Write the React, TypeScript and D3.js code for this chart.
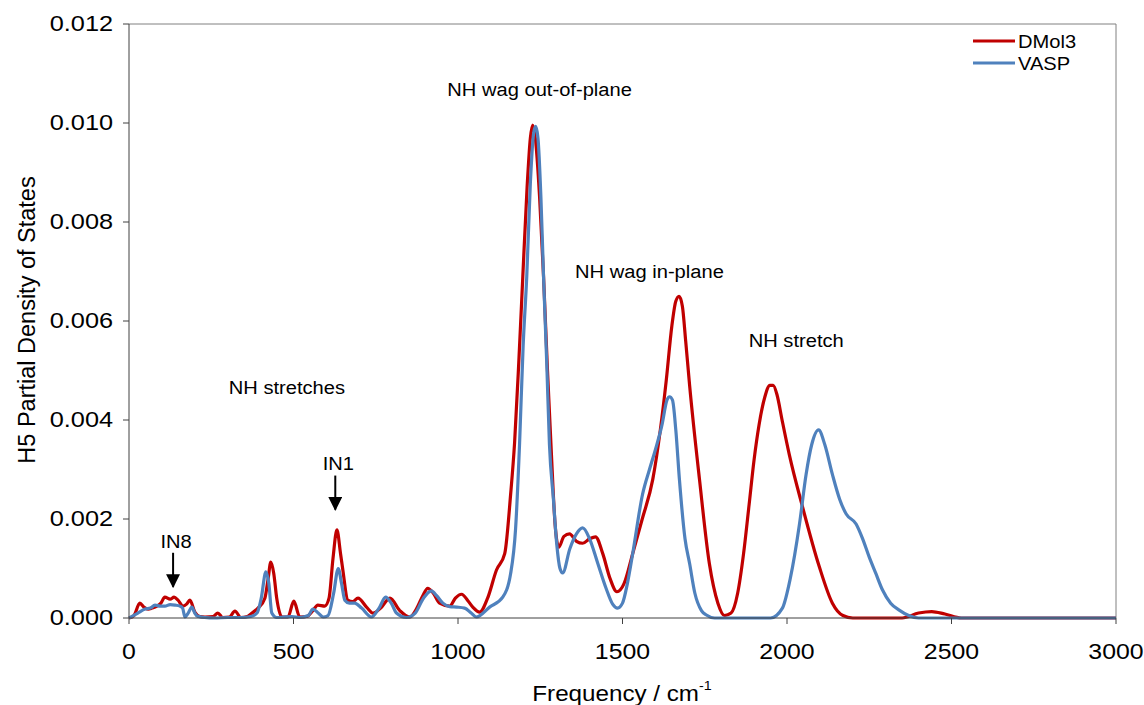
import React from "react";
import * as d3 from "d3";

const dmol3Freq = [0, 15, 33, 45, 58, 70, 85, 97, 109, 125, 137, 149, 164, 175, 185, 200, 215, 231, 255, 270, 285, 305, 322, 340, 360, 374, 392, 413, 423, 431, 440, 449, 465, 483, 501, 519, 540, 559, 574, 595, 608, 620, 632, 643, 650, 665, 680, 696, 722, 742, 765, 793, 823, 853, 875, 893, 908, 925, 944, 975, 992, 1011, 1030, 1045, 1066, 1090, 1117, 1142, 1160, 1172, 1185, 1197, 1210, 1220, 1227, 1235, 1248, 1260, 1272, 1284, 1295, 1306, 1322, 1339, 1360, 1379, 1400, 1418, 1440, 1462, 1483, 1505, 1531, 1560, 1592, 1615, 1633, 1650, 1662, 1672, 1682, 1692, 1704, 1734, 1764, 1790, 1810, 1830, 1850, 1868, 1885, 1900, 1915, 1932, 1948, 1958, 1970, 1985, 2007, 2047, 2098, 2138, 2170, 2200, 2250, 2350, 2400, 2440, 2480, 2530, 3000];
const dmol3Val = [0, 0.00005, 0.0003, 0.00022, 0.00018, 0.0002, 0.00024, 0.0003, 0.00042, 0.00038, 0.00042, 0.00036, 0.00024, 0.00028, 0.00036, 0.00012, 0.00003, 0.00002, 0.00003, 0.0001, 0.00001, 0.00002, 0.00014, 0.00001, 0.00003, 0.0001, 0.0002, 0.0004, 0.0008, 0.00113, 0.0009, 0.0004, 0.00002, 0.00002, 0.00034, 0.00002, 0.00003, 0.00015, 0.00026, 0.00024, 0.0004, 0.0012, 0.00178, 0.0013, 0.00097, 0.00036, 0.00033, 0.0004, 0.00022, 0.0001, 0.0002, 0.0004, 0.00015, 0.00002, 0.0002, 0.00045, 0.0006, 0.0005, 0.0003, 0.00024, 0.0004, 0.00048, 0.00035, 0.00022, 0.00012, 0.0004, 0.00097, 0.0013, 0.0025, 0.00354, 0.0052, 0.0069, 0.0087, 0.0097, 0.00996, 0.0097, 0.0085, 0.0069, 0.005, 0.0033, 0.0019, 0.00143, 0.00165, 0.0017, 0.00155, 0.00151, 0.0016, 0.00164, 0.0013, 0.0008, 0.00053, 0.0007, 0.0013, 0.002, 0.0028, 0.0038, 0.0048, 0.0059, 0.0064, 0.0065, 0.0063, 0.0056, 0.0047, 0.0028, 0.0011, 0.0003, 0.00005, 0.0001, 0.0005, 0.0013, 0.0023, 0.0032, 0.0039, 0.00445, 0.0047, 0.0047, 0.0045, 0.0040, 0.0033, 0.00225, 0.00104, 0.0003, 0.00005, 0, 0, 0, 0.0001, 0.00013, 0.00008, 0, 0];

const vaspFreq = [0, 27, 49, 65, 79, 95, 109, 125, 140, 155, 163, 170, 180, 191, 200, 207, 230, 260, 300, 340, 370, 389, 402, 416, 425, 434, 449, 470, 495, 520, 545, 559, 575, 590, 605, 622, 636, 646, 656, 670, 686, 707, 737, 760, 780, 797, 813, 843, 870, 895, 919, 935, 954, 975, 996, 1020, 1040, 1056, 1096, 1136, 1160, 1175, 1187, 1198, 1209, 1220, 1230, 1236, 1243, 1252, 1260, 1270, 1278, 1290, 1300, 1310, 1318, 1340, 1360, 1379, 1400, 1425, 1450, 1470, 1485, 1500, 1515, 1531, 1561, 1582, 1600, 1620, 1635, 1643, 1652, 1662, 1673, 1690, 1704, 1720, 1740, 1755, 1780, 1950, 1986, 2010, 2038, 2058, 2075, 2096, 2115, 2138, 2160, 2180, 2210, 2230, 2250, 2270, 2290, 2315, 2341, 2370, 2400, 3000];
const vaspVal = [0, 0.0001, 0.00018, 0.0002, 0.00026, 0.00024, 0.00024, 0.00027, 0.00026, 0.00024, 0.0002, 0.00002, 0.0001, 0.00022, 0.0001, 0.00004, 0.00001, 0, 0.00001, 0.00001, 0.00003, 0.0001, 0.0004, 0.00093, 0.0007, 0.0001, 0.00001, 0.00002, 0.00003, 0.00001, 0.00005, 0.00018, 0.0001, 0.00002, 0.00005, 0.0005, 0.001, 0.0007, 0.00036, 0.0003, 0.0003, 0.0002, 0.00002, 0.0002, 0.00042, 0.0003, 0.0001, 0.00001, 0.0001, 0.0004, 0.00055, 0.00045, 0.0003, 0.00023, 0.00022, 0.0002, 0.0001, 0.00002, 0.00022, 0.00042, 0.0009, 0.0018, 0.0035, 0.0055, 0.0069, 0.0088, 0.0098, 0.00993, 0.0097, 0.0085, 0.0069, 0.0051, 0.0035, 0.0024, 0.0015, 0.001, 0.00091, 0.0014, 0.0017, 0.00182, 0.0016, 0.0011, 0.0006, 0.00028, 0.0002, 0.0003, 0.0007, 0.0013, 0.0025, 0.003, 0.0034, 0.0039, 0.0044, 0.00447, 0.0044, 0.0038, 0.0028, 0.0016, 0.0011, 0.0005, 0.00015, 0.00006, 0, 0, 0.0002, 0.0008, 0.0019, 0.0029, 0.0035, 0.0038, 0.0035, 0.0029, 0.0024, 0.0021, 0.0019, 0.0016, 0.00123, 0.0009, 0.00057, 0.0003, 0.00016, 0.00005, 0, 0];

const xTicks = [0, 500, 1000, 1500, 2000, 2500, 3000];
const yTicks = [0, 0.002, 0.004, 0.006, 0.008, 0.01, 0.012];

const seriesNames = ["DMol3", "VASP"];
const seriesColors = ["#C00000", "#4F81BD"];

const annotations = [
  { text: "NH stretches", f: 480, v: 0.00467 },
  { text: "NH wag out-of-plane", f: 1248, v: 0.01069 },
  { text: "NH wag in-plane", f: 1582, v: 0.00701 },
  { text: "NH stretch", f: 2028, v: 0.00561 },
];
const arrows = [
  { text: "IN8", f: 134, v: 0.00156 },
  { text: "IN1", f: 627, v: 0.00312 },
];

const FONT = "'Liberation Sans', Arial, sans-serif";

function SText(props: {
  x: number;
  y: number;
  sx?: number;
  size: number;
  anchor?: string;
  children: React.ReactNode;
}) {
  const { x, y, sx = 1.1, size, anchor = "middle", children } = props;
  return (
    <text
      transform={`translate(${x},${y}) scale(${sx},1)`}
      textAnchor={anchor}
      dominantBaseline="central"
      fontSize={size}
      fill="#000"
    >
      {children}
    </text>
  );
}

export default function App() {
  const W = 1144, H = 705;
  const left = 129, right = 1116, top = 24, bottom = 618;
  const x = d3.scaleLinear().domain([0, 3000]).range([left, right]);
  const y = d3.scaleLinear().domain([0, 0.012]).range([bottom, top]);
  const line = d3
    .line<[number, number]>()
    .x((d) => x(d[0]))
    .y((d) => y(d[1]))
    .curve(d3.curveMonotoneX);

  const series = [
    dmol3Freq.map((f, i) => [f, dmol3Val[i]] as [number, number]),
    vaspFreq.map((f, i) => [f, vaspVal[i]] as [number, number]),
  ];
  const axisColor = "#404040";

  return (
    <svg
      width={W}
      height={H}
      style={{ position: "absolute", left: 0, top: 0, background: "#fff" }}
      fontFamily={FONT}
    >
      <rect x={0} y={0} width={W} height={H} fill="#fff" />
      <path d={`M${left},${top}H${right}V${bottom}`} fill="none" stroke="#808080" strokeWidth={1} />
      {series.map((s, i) => (
        <path key={i} d={line(s) || ""} fill="none" stroke={seriesColors[i]} strokeWidth={3.2} strokeLinejoin="round" />
      ))}
      <line x1={left} x2={right} y1={bottom} y2={bottom} stroke={axisColor} strokeWidth={1} />
      <line x1={left} x2={left} y1={top} y2={bottom} stroke={axisColor} strokeWidth={1} />
      {xTicks.map((t) => (
        <g key={"x" + t}>
          <line x1={x(t)} x2={x(t)} y1={bottom} y2={bottom + 6} stroke={axisColor} />
          <SText x={x(t)} y={652} size={22} sx={1.13}>
            {t}
          </SText>
        </g>
      ))}
      {yTicks.map((t) => (
        <g key={"y" + t}>
          <line x1={left - 6} x2={left} y1={y(t)} y2={y(t)} stroke={axisColor} />
          <SText x={113} y={y(t)} size={22} sx={1.15} anchor="end">
            {d3.format(".3f")(t)}
          </SText>
        </g>
      ))}
      <SText x={622} y={693} size={22} sx={1.1}>
        Frequency / cm<tspan dy={-8} fontSize={13}>-1</tspan>
      </SText>
      <text
        transform={`translate(27,320) rotate(-90)`}
        textAnchor="middle"
        dominantBaseline="central"
        fontSize={23.5}
        fill="#000"
      >
        H5 Partial Density of States
      </text>
      {annotations.map((a) => (
        <SText key={a.text} x={x(a.f)} y={y(a.v)} size={19} sx={1.06}>
          {a.text}
        </SText>
      ))}
      <defs>
        <marker id="ah" viewBox="0 0 10 10" refX={9} refY={5} markerWidth={7} markerHeight={7} orient="auto">
          <path d="M0,0L10,5L0,10z" fill="#000" />
        </marker>
      </defs>
      {arrows.map((a) => (
        <g key={a.text}>
          <SText x={x(a.f) + 3} y={y(a.v)} size={19} sx={1.06}>
            {a.text}
          </SText>
          <line
            x1={x(a.f)}
            x2={x(a.f)}
            y1={y(a.v) + 12}
            y2={y(a.v) + 46}
            stroke="#000"
            strokeWidth={2}
            markerEnd="url(#ah)"
          />
        </g>
      ))}
      {seriesNames.map((n, i) => (
        <g key={n}>
          <line x1={973} x2={1015} y1={41 + i * 22} y2={41 + i * 22} stroke={seriesColors[i]} strokeWidth={3.2} />
          <SText x={1018} y={41 + i * 22} size={19} sx={1.06} anchor="start">
            {n}
          </SText>
        </g>
      ))}
    </svg>
  );
}
